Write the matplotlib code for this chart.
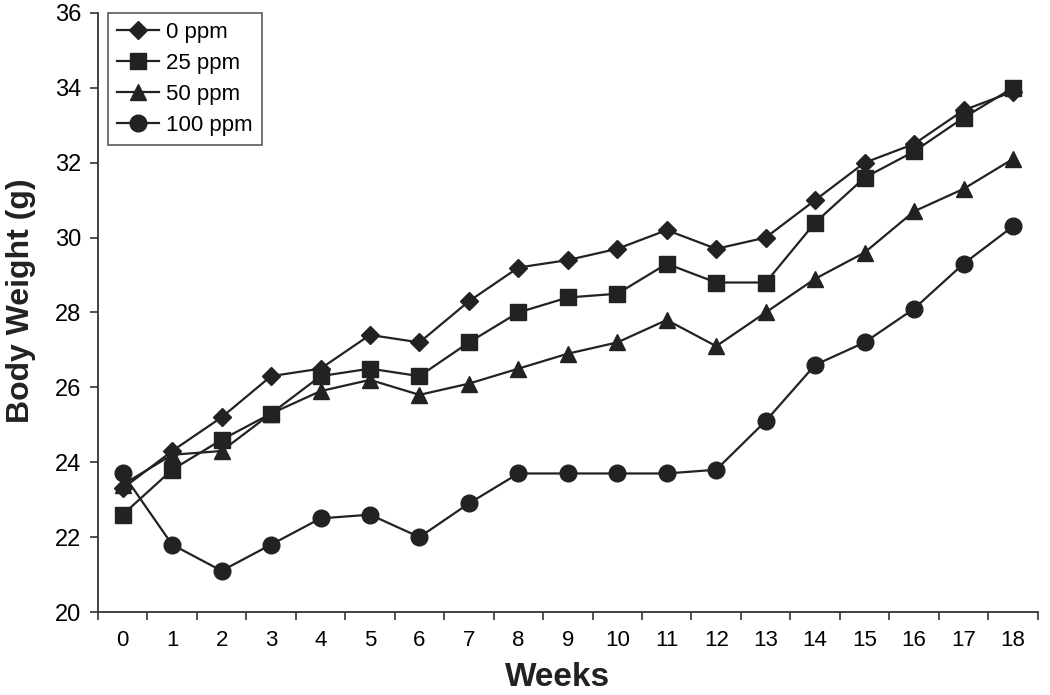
import numpy as np
import matplotlib.pyplot as plt

plt.rcParams['font.family'] = ['Liberation Sans', 'DejaVu Sans']

weeks = list(range(19))
ppm0 = [23.3, 24.3, 25.2, 26.3, 26.5, 27.4, 27.2, 28.3, 29.2, 29.4,
        29.7, 30.2, 29.7, 30.0, 31.0, 32.0, 32.5, 33.4, 33.9]
ppm25 = [22.6, 23.8, 24.6, 25.3, 26.3, 26.5, 26.3, 27.2, 28.0, 28.4,
         28.5, 29.3, 28.8, 28.8, 30.4, 31.6, 32.3, 33.2, 34.0]
ppm50 = [23.4, 24.2, 24.3, 25.3, 25.9, 26.2, 25.8, 26.1, 26.5, 26.9,
         27.2, 27.8, 27.1, 28.0, 28.9, 29.6, 30.7, 31.3, 32.1]
ppm100 = [23.7, 21.8, 21.1, 21.8, 22.5, 22.6, 22.0, 22.9, 23.7, 23.7,
          23.7, 23.7, 23.8, 25.1, 26.6, 27.2, 28.1, 29.3, 30.3]

col = '#222222'
fig = plt.figure(figsize=(10.5, 6.95), dpi=100)
ax = fig.add_axes([0.0933, 0.1194, 0.895, 0.862])

ax.plot(weeks, ppm0, marker='D', ms=9, color=col, lw=1.6, label='0 ppm')
ax.plot(weeks, ppm25, marker='s', ms=11, color=col, lw=1.6, label='25 ppm')
ax.plot(weeks, ppm50, marker='^', ms=12, color=col, lw=1.6, label='50 ppm')
ax.plot(weeks, ppm100, marker='o', ms=12, color=col, lw=1.6, label='100 ppm')

ax.set_xlim(-0.5, 18.5)
ax.set_ylim(20, 36)
ax.set_yticks(np.arange(20, 37, 2))
ax.set_xticks(weeks)
ax.set_xticks(np.arange(-0.5, 19, 1), minor=True)
ax.tick_params(axis='x', which='major', length=0, pad=13, labelsize=16)
ax.tick_params(axis='x', which='minor', length=6, width=1.2, color='#333333')
ax.tick_params(axis='y', length=6, width=1.2, color='#333333', labelsize=17, pad=6)

for s in ['top', 'right']:
    ax.spines[s].set_visible(False)
for s in ['left', 'bottom']:
    ax.spines[s].set_color('#333333')
    ax.spines[s].set_linewidth(1.3)

ax.set_xlabel('Weeks', fontsize=24, fontweight='bold', color=col)
ax.set_ylabel('Body Weight (g)', fontsize=23, fontweight='bold', color=col)
ax.xaxis.set_label_coords(0.489, -0.084)
ax.yaxis.set_label_coords(-0.066, 0.52)

leg = ax.legend(loc='upper left', bbox_to_anchor=(0.011, 1.0), fontsize=16,
                frameon=True, fancybox=False, edgecolor='#333333',
                handlelength=1.9, borderpad=0.4, labelspacing=0.45,
                handletextpad=0.3, borderaxespad=0)
leg.get_frame().set_linewidth(1.2)

fig.savefig('out.png', dpi=100)
